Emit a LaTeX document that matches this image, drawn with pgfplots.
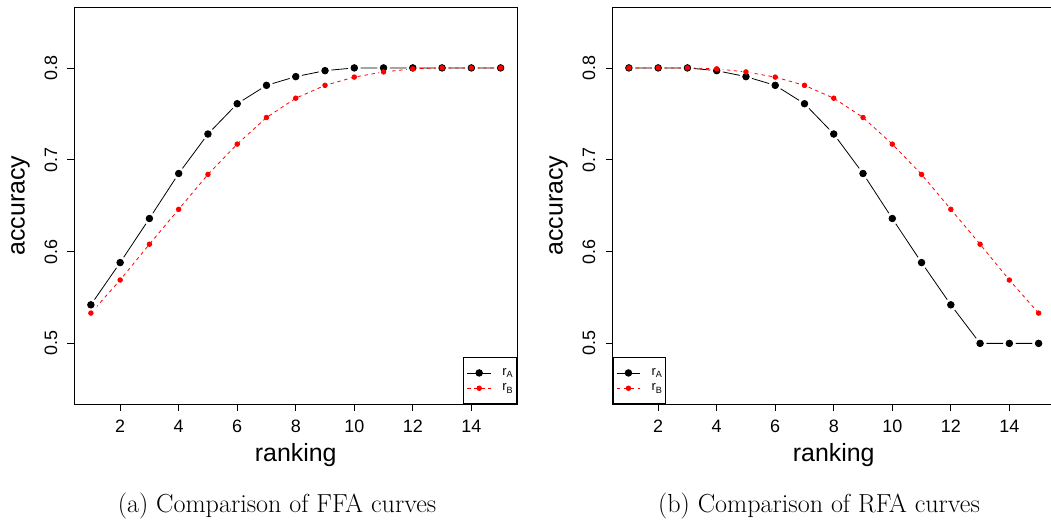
\documentclass[border=0pt]{standalone}
\usepackage{fontspec}
\usepackage{pgfplots}
\usepackage{pgfplotstable}
\pgfplotsset{compat=1.18}
\newfontfamily\arial{Liberation Sans}

% accuracy against ranking, FFA curves
\pgfplotstableread{
x y
1 0.542
2 0.588
3 0.636
4 0.685
5 0.728
6 0.761
7 0.781
8 0.7905
9 0.797
10 0.800
11 0.800
12 0.800
13 0.800
14 0.800
15 0.800
}\ffaA
\pgfplotstableread{
x y
1 0.533
2 0.569
3 0.608
4 0.646
5 0.684
6 0.717
7 0.746
8 0.767
9 0.781
10 0.790
11 0.7956
12 0.799
13 0.800
14 0.800
15 0.800
}\ffaB
% accuracy against ranking, RFA curves
\pgfplotstableread{
x y
1 0.800
2 0.800
3 0.800
4 0.797
5 0.7905
6 0.781
7 0.761
8 0.728
9 0.685
10 0.636
11 0.588
12 0.542
13 0.500
14 0.500
15 0.500
}\rfaA
\pgfplotstableread{
x y
1 0.800
2 0.800
3 0.800
4 0.799
5 0.7956
6 0.790
7 0.781
8 0.767
9 0.746
10 0.717
11 0.684
12 0.646
13 0.608
14 0.569
15 0.533
}\rfaB

\pgfplotsset{
  rankplot/.style={
    scale only axis, width=442.5bp, height=396.7bp,
    anchor=south west,
    xmin=0.44, xmax=15.56, ymin=0.434, ymax=0.866,
    xtick={2,4,...,14}, ytick={0.5,0.6,0.7,0.8},
    tick align=outside, tick pos=left, major tick length=7bp,
    axis line style={line width=0.8bp, black},
    every tick/.style={black, line width=0.8bp},
    /pgf/number format/assume math mode=true,
    tick label style={font=\arial\fontsize{18}{18}\selectfont, inner sep=0pt},
    xticklabel style={anchor=north},
    xticklabel shift=8.5bp,
    yticklabel style={rotate=90, anchor=south,
      /pgf/number format/.cd, fixed, fixed zerofill, precision=1},
    yticklabel shift=10bp,
    xlabel={ranking}, ylabel={accuracy},
    label style={font=\arial\fontsize{25}{25}\selectfont, inner sep=0pt},
    xlabel style={at={(axis description cs:0.5,-0.1437)}, anchor=base},
    ylabel style={at={(axis description cs:-0.1125,0.5)}, anchor=base, rotate=0},
    legend style={draw=black, line width=0.8bp, fill=white,
      inner xsep=3.4bp, inner ysep=7.7bp,
      font=\arial\fontsize{13}{13}\selectfont,
      nodes={inner sep=0pt, minimum height=15.3bp},
      cells={anchor=west},
      /tikz/every odd column/.append style={column sep=11bp},
      row sep=0pt},
    legend image code/.code={
      \draw[mark repeat=2, mark phase=2, #1]
        plot coordinates {(0bp,0bp) (11.75bp,0bp) (23.5bp,0bp)};},
  },
  lineA/.style={black, line width=0.8bp},
  gapA/.style={only marks, mark=*, mark size=6.1bp, white},
  lineB/.style={red, line width=0.8bp, dash pattern=on 3.5bp off 3.5bp},
  dotA/.style={only marks, mark=*, mark size=3.3bp, black, line width=0.8bp},
  dotB/.style={only marks, mark=*, mark size=2.3bp, red, line width=0.8bp},
}

\begin{document}
\begin{tikzpicture}
\begin{axis}[rankplot, at={(74.5bp,119bp)},
    legend style={at={(rel axis cs:1,0)}, anchor=south east}]
  \addplot[forget plot, lineA] table {\ffaA};
  \addplot[forget plot, gapA] table {\ffaA};
  \addplot[forget plot, lineB] table {\ffaB};
  \addplot[forget plot, dotA] table {\ffaA};
  \addplot[forget plot, dotB] table {\ffaB};
  \addlegendimage{black, line width=0.8bp, mark=*, mark size=3.3bp}
  \addlegendentry{r\textsubscript{A}}
  \addlegendimage{red, line width=0.8bp, dash pattern=on 3.5bp off 3.5bp,
    mark=*, mark size=2.3bp, mark options={solid}}
  \addlegendentry{r\textsubscript{B}}
\end{axis}
\begin{axis}[rankplot, at={(612.5bp,119bp)},
    legend style={at={(rel axis cs:0,0)}, anchor=south west}]
  \addplot[forget plot, lineA] table {\rfaA};
  \addplot[forget plot, gapA] table {\rfaA};
  \addplot[forget plot, lineB] table {\rfaB};
  \addplot[forget plot, dotA] table {\rfaA};
  \addplot[forget plot, dotB] table {\rfaB};
  \addlegendimage{black, line width=0.8bp, mark=*, mark size=3.3bp}
  \addlegendentry{r\textsubscript{A}}
  \addlegendimage{red, line width=0.8bp, dash pattern=on 3.5bp off 3.5bp,
    mark=*, mark size=2.3bp, mark options={solid}}
  \addlegendentry{r\textsubscript{B}}
\end{axis}
\node[font=\fontsize{26.2}{30}\selectfont, anchor=base] at (277bp,11bp)
  {(a) Comparison of FFA curves};
\node[font=\fontsize{26.2}{30}\selectfont, anchor=base] at (819bp,11bp)
  {(b) Comparison of RFA curves};
\pgfresetboundingbox
\useasboundingbox (0bp,0bp) rectangle (1051bp,523bp);
\end{tikzpicture}
\end{document}
